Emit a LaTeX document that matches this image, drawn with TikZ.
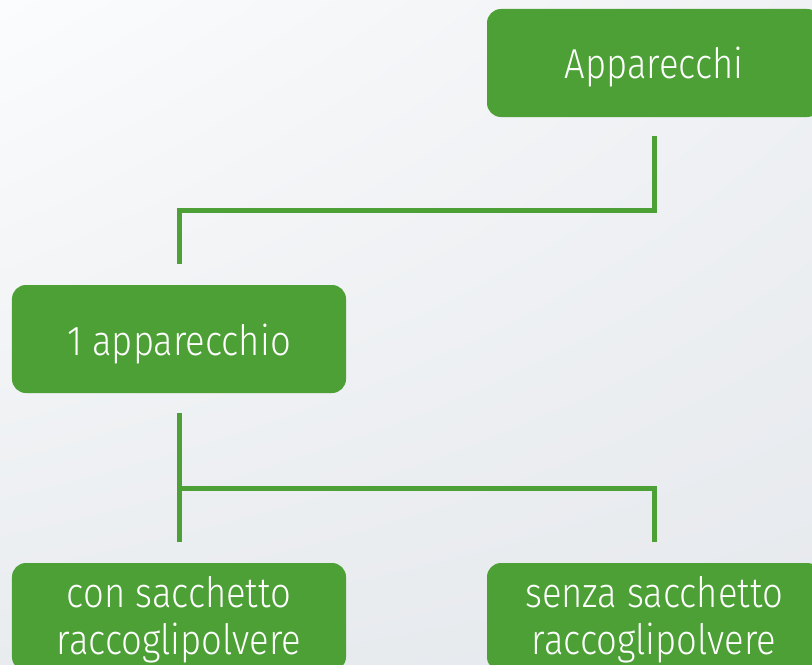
\documentclass[tikz,border=0pt]{standalone}
\usepackage{fontspec}
\setmainfont{Fira Sans}[UprightFont=* Light, FakeStretch=0.87]
\usetikzlibrary{calc,shadings}
\definecolor{leaf}{HTML}{4CA035}
\definecolor{bgA}{HTML}{FBFCFD}
\definecolor{bgB}{HTML}{EFF1F4}
\definecolor{bgC}{HTML}{E9ECEF}
\definecolor{bgD}{HTML}{E6E9ED}
\tikzset{
  box/.style={fill=leaf, rounded corners=14bp, minimum width=334bp, minimum height=108bp,
    inner sep=0pt, text=white, align=center, font=\fontsize{42}{44}\selectfont},
  oneline/.style={text height=32bp, text depth=0pt},
  twoline/.style={text height=74bp, text depth=0pt},
  conn/.style={draw=leaf, line width=5bp, line cap=butt, line join=miter}
}
\begin{document}
\begin{tikzpicture}[x=1bp,y=-1bp]
\useasboundingbox (0,0) rectangle (812,665);
\clip (0,0) rectangle (812,665);
\shade[upper left=bgA, upper right=bgB, lower left=bgC, lower right=bgD] (0,0) rectangle (812,665);

\node[box, oneline] (app) at (654,63) {Apparecchi};
\node[box, oneline] (apt) at (179,339) {1 apparecchio};
\node[box, twoline] (con) at (179,617) {con sacchetto\\[3bp]raccoglipolvere};
\node[box, twoline] (sen) at (654,617) {senza sacchetto\\[3bp]raccoglipolvere};

\draw[conn] ([yshift=-19bp]app.south) |- ([yshift=74bp]apt.north) -- ([yshift=21bp]apt.north);
\draw[conn] ([yshift=-20bp]apt.south) -- ([yshift=21bp]con.north);
\coordinate (j) at (179,488.5);
\draw[conn] (j) -| ([yshift=21bp]sen.north);
\end{tikzpicture}
\end{document}
